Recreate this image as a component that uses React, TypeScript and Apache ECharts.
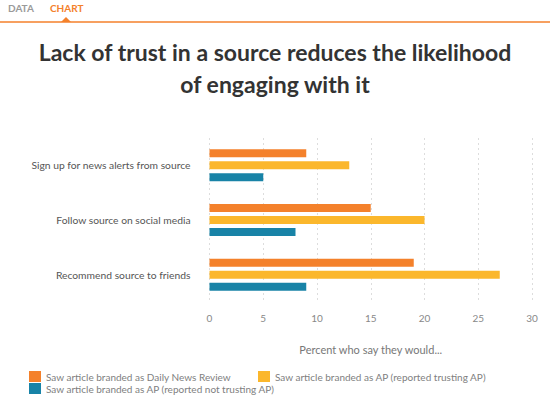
import React, { useEffect, useRef } from "react";
import * as echarts from "echarts";

const categories = [
  "Sign up for news alerts from source",
  "Follow source on social media",
  "Recommend source to friends",
];
const seriesNames = [
  "Saw article branded as Daily News Review",
  "Saw article branded as AP (reported trusting AP)",
  "Saw article branded as AP (reported not trusting AP)",
];
const dailyNewsReview = [9, 15, 19];
const apTrusting = [13, 20, 27];
const apNotTrusting = [5, 8, 9];
const colors = ["#f4812b", "#fbb72c", "#1883a7"];
const xTicks = [0, 5, 10, 15, 20, 25, 30];

export default function App() {
  const ref = useRef<HTMLDivElement>(null);
  useEffect(() => {
    if (!ref.current) return;
    const chart = echarts.init(ref.current, null, { renderer: "svg" });
    const font = "Lato, 'Open Sans', sans-serif";
    const values = [dailyNewsReview, apTrusting, apNotTrusting];
    chart.setOption({
      animation: false,
      backgroundColor: "#ffffff",
      textStyle: { fontFamily: font },
      title: {
        text: "Lack of trust in a source reduces the likelihood\nof engaging with it",
        left: 275,
        top: 36,
        textAlign: "center",
        padding: 0,
        textStyle: {
          fontFamily: font,
          fontSize: 23,
          fontWeight: "bold",
          color: "#333333",
          lineHeight: 32,
        },
      },
      graphic: [
        { type: "text", left: 8, top: 3, style: { text: "DATA", fill: "#9a9a9a", font: "bold 10px Lato, sans-serif" } },
        { type: "text", left: 50, top: 3, style: { text: "CHART", fill: "#f4812b", font: "bold 10px Lato, sans-serif" } },
        { type: "line", shape: { x1: 0, y1: 22, x2: 550, y2: 22 }, style: { stroke: "#f4812b", lineWidth: 1.5 } },
        { type: "polygon", shape: { points: [[61, 22], [66, 17], [71, 22]] }, style: { fill: "#f4812b" } },
      ],
      legend: seriesNames.map((n, i) => ({
        data: [n],
        left: [29, 258, 29][i],
        top: [371, 371, 383][i],
        padding: 0,
        itemWidth: 12,
        itemHeight: 11,
        itemGap: 6,
        icon: "rect",
        textStyle: { color: "#808080", fontSize: 10, fontFamily: font },
        selectedMode: false,
      })),
      grid: { left: 209.5, right: 18, top: 138, bottom: 96, containLabel: false },
      xAxis: {
        type: "value",
        min: 0,
        max: 30,
        interval: 5,
        name: "Percent who say they would...",
        nameLocation: "middle",
        nameGap: 42,
        nameTextStyle: { color: "#777777", fontSize: 11, fontFamily: font },
        axisLine: { show: false },
        axisTick: { show: false },
        axisLabel: {
          color: "#888888",
          fontSize: 10,
          margin: 11,
          formatter: (v: number) => (xTicks.includes(v) ? String(v) : ""),
        },
        splitLine: { show: true, lineStyle: { color: "#dddddd", type: [2, 3] } },
      },
      yAxis: {
        type: "category",
        data: categories,
        inverse: true,
        axisLine: { show: false },
        axisTick: { show: false },
        axisLabel: { color: "#555555", fontSize: 10.3, margin: 19, fontFamily: font },
        splitLine: { show: false },
      },
      series: seriesNames.map((n, i) => ({
        name: n,
        type: "bar",
        data: values[i],
        barWidth: 8,
        barGap: "50%",
        itemStyle: { color: colors[i] },
      })),
    });
    return () => chart.dispose();
  }, []);
  return (
    <div
      ref={ref}
      style={{ position: "fixed", left: 0, top: 0, width: 550, height: 398 }}
    />
  );
}
